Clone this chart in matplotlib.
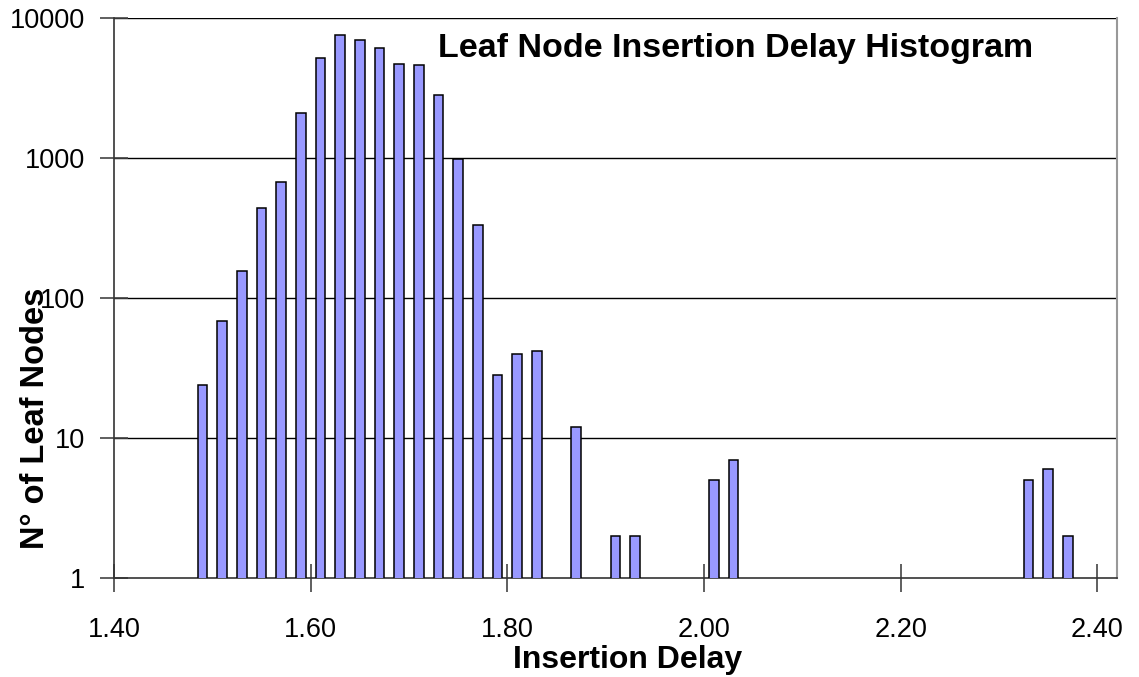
import matplotlib
matplotlib.use("Agg")
import matplotlib.pyplot as plt
from matplotlib.ticker import FixedLocator, NullLocator

plt.rcParams['font.family'] = ['Liberation Sans', 'DejaVu Sans']

# histogram bins (centre of each 0.02 bin) and leaf node counts
delay = [1.49, 1.51, 1.53, 1.55, 1.57, 1.59, 1.61, 1.63, 1.65, 1.67, 1.69,
         1.71, 1.73, 1.75, 1.77, 1.79, 1.81, 1.83, 1.87, 1.91, 1.93, 2.01,
         2.03, 2.33, 2.35, 2.37]
count = [24, 69, 156, 437, 670, 2107, 5210, 7520, 6930, 6105, 4693,
         4590, 2804, 984, 332, 28, 40, 42, 12, 2, 2, 5,
         7, 5, 6, 2]

xticks = [1.40, 1.60, 1.80, 2.00, 2.20, 2.40]
yticks = [1, 10, 100, 1000, 10000]

fig = plt.figure(figsize=(11.39, 6.77), dpi=100)
ax = fig.add_axes([114/1139, 1 - 578/677, (1117 - 114)/1139, (578 - 18)/677])

ax.bar(delay, count, width=0.0095, color="#9999FF",
       edgecolor="black", linewidth=1.1, zorder=3)

ax.set_yscale("log")
ax.set_ylim(1, 10000)
ax.set_xlim(1.40, 2.42)

ax.yaxis.set_major_locator(FixedLocator(yticks))
ax.yaxis.set_minor_locator(NullLocator())
ax.set_yticklabels([str(v) for v in yticks])
ax.set_xticks(xticks)
ax.set_xticklabels(["%.2f" % v for v in xticks])

for v in yticks[1:]:
    ax.axhline(v, color="black", linewidth=1.0, zorder=1)

ax.tick_params(axis="both", direction="inout", length=20, width=1.2,
               color="#444444", labelsize=19.5)
ax.tick_params(axis="x", pad=18)
ax.tick_params(axis="y", pad=11)

for side in ["left", "bottom"]:
    ax.spines[side].set_color("#333333")
    ax.spines[side].set_linewidth(1.2)
ax.spines["top"].set_visible(False)
ax.spines["right"].set_color("#999999")
ax.spines["right"].set_linewidth(1.5)

fig.text(736/1139, 1 - 48/677, "Leaf Node Insertion Delay Histogram",
         ha="center", va="center", fontsize=24.5, fontweight="bold")
fig.text(628/1139, 1 - 660/677, "Insertion Delay", ha="center", va="center",
         fontsize=23, fontweight="bold")
fig.text(36/1139, 1 - 418/677, "N° of Leaf Nodes", ha="center", va="center",
         rotation=90, fontsize=23.5, fontweight="bold")

fig.savefig("out.png", dpi=100)
